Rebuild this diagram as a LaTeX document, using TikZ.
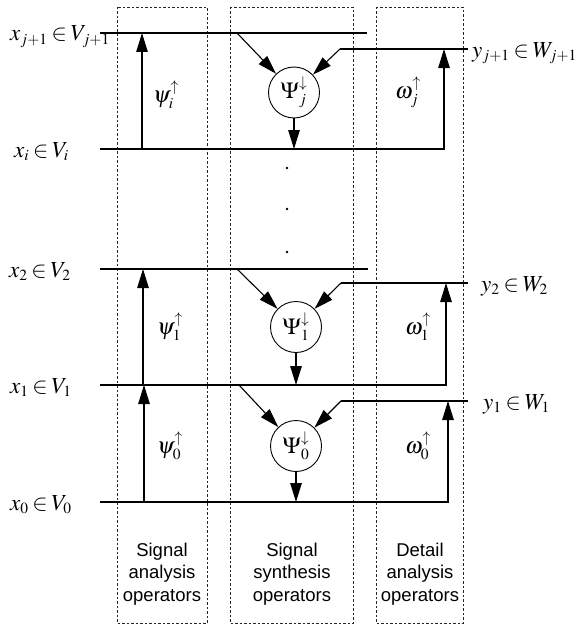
\documentclass[tikz,border=0pt]{standalone}
\usepackage[no-math]{fontspec}
\usepackage{mathptmx}
\setmainfont{Liberation Serif}
\newfontfamily\labelsans{Liberation Sans}
\usetikzlibrary{arrows.meta}
\DeclareMathSizes{23}{23}{15.5}{11}
\newcommand\mathsz{\fontsize{23}{27}\selectfont}
\newcommand\inrel{\mskip3mu{\in}\mskip3mu}
\begin{document}
\begin{tikzpicture}[x={(1pt,0pt)},y={(0pt,-1pt)},
  ln/.style={line width=1.1pt},
  arr/.style={ln,-{Triangle[length=19pt,width=11.5pt]}},
  dbox/.style={line width=0.7pt,dash pattern=on 2.5pt off 2pt,black!85},
  op/.style={circle,draw,line width=0.9pt,minimum size=51pt,inner sep=0pt,font=\mathsz},
  mlab/.style={inner sep=0pt,font=\mathsz},
  captext/.style={align=center,inner sep=0pt,font=\labelsans\fontsize{18.5}{22.3}\selectfont}]
\useasboundingbox (0,0) rectangle (581,626);

% dashed operator columns
\draw[dbox] (117,7) rectangle (207,623);
\draw[dbox] (230,7) rectangle (353,623);
\draw[dbox] (376,7) rectangle (463,623);

% ---------- section j ----------
\coordinate (a-ts) at (100,33);  \coordinate (a-te) at (367,33);
\coordinate (a-ws) at (340,49);  \coordinate (a-we) at (468,49);
\coordinate (a-bs) at (100,149); \coordinate (a-bc) at (444,149);
\coordinate (a-wr) at (444,49);
\coordinate (a-lt) at (142,33);  \coordinate (a-lb) at (142,149);
\coordinate (a-d)  at (237,33);  \coordinate (a-bo) at (294,149);
\node[op] (a-op) at (294,92.5) {$\Psi_j^{\downarrow}$};
\draw[ln] (a-ts) -- (a-te);
\draw[ln] (a-ws) -- (a-we);
\draw[arr] (a-bs) -- (a-bc) -- (a-wr);
\draw[arr] (a-lb) -- (a-lt);
\draw[arr] (a-d) -- (a-op);
\draw[arr] (a-ws) -- (a-op);
\draw[arr] (a-op) -- (a-bo);

% dots
\fill (287,168) circle (1.4);
\fill (287,209) circle (1.4);
\fill (287,252) circle (1.4);

% ---------- section 1 ----------
\coordinate (b-ts) at (100,269); \coordinate (b-te) at (368,269);
\coordinate (b-ws) at (341,283); \coordinate (b-we) at (468,283);
\coordinate (b-bs) at (100,385); \coordinate (b-bc) at (446,385);
\coordinate (b-wr) at (446,283);
\coordinate (b-lt) at (143,269); \coordinate (b-lb) at (143,385);
\coordinate (b-d)  at (237,269); \coordinate (b-bo) at (296,385);
\node[op] (b-op) at (296,327) {$\Psi_1^{\downarrow}$};
\draw[ln] (b-ts) -- (b-te);
\draw[ln] (b-ws) -- (b-we);
\draw[arr] (b-bs) -- (b-bc) -- (b-wr);
\draw[arr] (b-lb) -- (b-lt);
\draw[arr] (b-d) -- (b-op);
\draw[arr] (b-ws) -- (b-op);
\draw[arr] (b-op) -- (b-bo);

% ---------- section 0 ----------
\coordinate (c-ws) at (341,401); \coordinate (c-we) at (468,401);
\coordinate (c-bs) at (100,502); \coordinate (c-bc) at (448,502);
\coordinate (c-wr) at (448,401);
\coordinate (c-lt) at (144,385); \coordinate (c-lb) at (144,502);
\coordinate (c-d)  at (239,385); \coordinate (c-bo) at (296,502);
\node[op] (c-op) at (296,446) {$\Psi_0^{\downarrow}$};
\draw[ln] (c-ws) -- (c-we);
\draw[arr] (c-bs) -- (c-bc) -- (c-wr);
\draw[arr] (c-lb) -- (c-lt);
\draw[arr] (c-d) -- (c-op);
\draw[arr] (c-ws) -- (c-op);
\draw[arr] (c-op) -- (c-bo);

% signal labels
\node[mlab,anchor=base west] (lxj) at (10,41)  {$x_{j+1}\inrel V_{j+1}$};
\node[mlab,anchor=base west] (lxi) at (14,157) {$x_i\inrel V_i$};
\node[mlab,anchor=base west] (lx2) at (9,277)  {$x_2\inrel V_2$};
\node[mlab,anchor=base west] (lx1) at (10,393) {$x_1\inrel V_1$};
\node[mlab,anchor=base west] (lx0) at (10,510) {$x_0\inrel V_0$};
\node[mlab,anchor=base west] (lyj) at (472,57)  {$y_{j+1}\inrel W_{j+1}$};
\node[mlab,anchor=base west] (ly2) at (481,291) {$y_2\inrel W_2$};
\node[mlab,anchor=base west] (ly1) at (483,409) {$y_1\inrel W_1$};

% operator labels
\node[mlab] (psi) at (166,95)  {$\psi_i^{\uparrow}$};
\node[mlab] (ps1) at (170,327) {$\psi_1^{\uparrow}$};
\node[mlab] (ps0) at (170,446) {$\psi_0^{\uparrow}$};
\node[mlab] (omj) at (408,92)  {$\omega_j^{\uparrow}$};
\node[mlab] (om1) at (418,327) {$\omega_1^{\uparrow}$};
\node[mlab] (om0) at (418,446) {$\omega_0^{\uparrow}$};

% captions
\node[captext] (cap1) at (162,574) {Signal\\analysis\\operators};
\node[captext] (cap2) at (292,574) {Signal\\synthesis\\operators};
\node[captext] (cap3) at (420,574) {Detail\\analysis\\operators};
\end{tikzpicture}
\end{document}
